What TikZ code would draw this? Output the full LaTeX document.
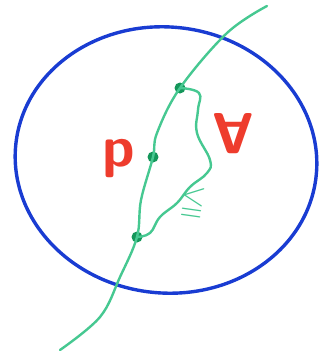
\documentclass[tikz,border=0pt]{standalone}
\usepackage{amsmath,amssymb}
\definecolor{circblue}{RGB}{25,60,210}
\definecolor{curvegreen}{RGB}{70,200,145}
\definecolor{dotgreen}{RGB}{20,150,90}
\definecolor{labelred}{RGB}{238,60,45}
\tikzset{
  ball/.style={
    draw=circblue,
    line width=3.4pt
  },
  geod/.style={
    draw=curvegreen,
    line width=2.4pt,
    line cap=round
  },
  pt/.style={
    inner sep = 0pt,
    minimum size = 11pt,
    shape = circle,
    fill = dotgreen
  },
  biglabel/.style={
    text=labelred,
    font=\fontsize{58}{58}\selectfont\sffamily\bfseries,
    inner sep=0pt
  }
}
\begin{document}
\begin{tikzpicture}[x=1pt,y=-1pt]
        \useasboundingbox (0,0) rectangle (320,362);
        % the ball
        \draw[ball,rotate around={-6:(166,160)}] (166,160) ellipse [x radius=151, y radius=133];
        % points on the curve
        \coordinate (top) at (267,6);
        \coordinate (bot) at (60,350);
        \node[pt] (q1) at (180,88) {};
        \node[pt] (p) at (153,157) {};
        \node[pt] (q2) at (137,237) {};
        \draw[geod] plot[smooth,tension=0.6] coordinates {
          (top) (227,33) (q1.center) (157,133) (p.center) (141,200) (q2.center) (120,277) (100,317) (bot)};
        % the wavy path
        \draw[geod] plot[smooth,tension=0.7] coordinates {
          (q1.center) (199,93) (198,110) (197,133) (210,160) (207,173) (190,187)
          (177,203) (160,217) (150,233) (q2.center)};
        % labels
        \node[biglabel] (plabel) at (119,159) {p};
        \node[biglabel,rotate=180] (alabel) at (233,134) {A};
        \node[text=curvegreen,font=\fontsize{32}{32}\selectfont\boldmath,rotate=-8,inner sep=0pt] (le) at (193,203) {$\leqq$};
\end{tikzpicture}
\end{document}
